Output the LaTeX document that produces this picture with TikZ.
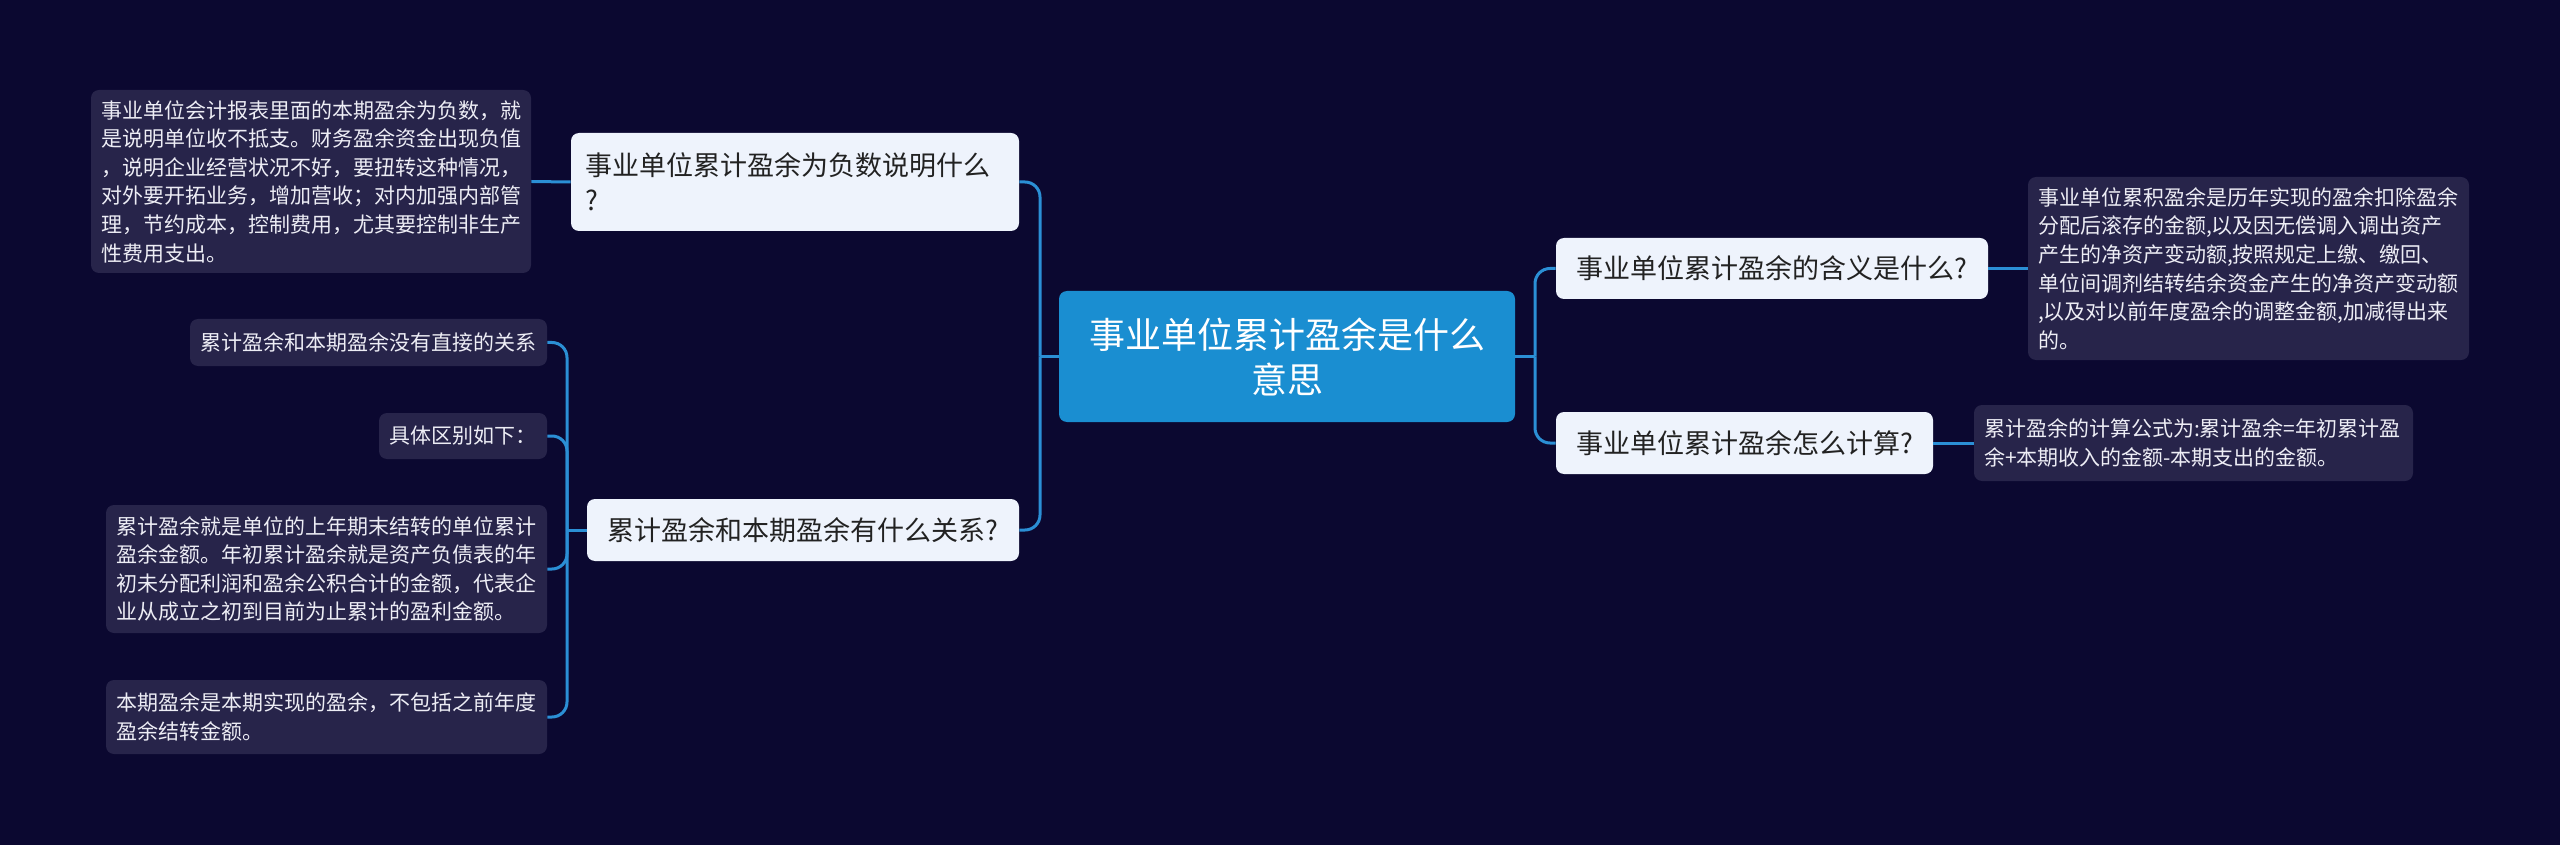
\documentclass[tikz,border=0pt]{standalone}
\usepackage{fontspec}
\newfontfamily\cjk{Noto Sans CJK SC}
\definecolor{bgc}{HTML}{0B0830}
\definecolor{leafc}{HTML}{27244A}
\definecolor{leaftext}{HTML}{EDEDF5}
\definecolor{rootc}{HTML}{1A8ED1}
\definecolor{branchc}{HTML}{EEF3FC}
\definecolor{branchtext}{HTML}{222222}
\definecolor{connc}{HTML}{2B8FD5}
\tikzset{
  leafbox/.style={fill=leafc, rounded corners=4pt, text=leaftext, font=\cjk\fontsize{10.5}{14.3}\selectfont, align=left, inner xsep=5pt, inner ysep=0pt},
  branchbox/.style={fill=branchc, rounded corners=4pt, text=branchtext, font=\cjk\fontsize{13.5}{17.5}\selectfont, align=center, inner xsep=7pt, inner ysep=0pt},
  rootbox/.style={fill=rootc, rounded corners=4pt, text=white, font=\cjk\fontsize{18}{22.5}\selectfont, align=center, inner sep=0pt, minimum width=228pt, minimum height=65.5pt},
  conn/.style={draw=connc, line width=1.5pt},
  rconn/.style={draw=connc, line width=1.5pt, rounded corners=7.5pt}
}
\begin{document}
\begin{tikzpicture}[x=0.5pt,y=-0.5pt]
\fill[bgc] (0,0) rectangle (2560,845);
\useasboundingbox (0,0) rectangle (2560,845);

% root
\node[rootbox] (root) at (1287,356.5) {事业单位累计盈余是什么\\意思};

% left branch 1
\node[branchbox, align=left, text width=210pt, minimum width=224pt, minimum height=49pt] (LB1) at (795,182) {事业单位累计盈余为负数说明什么\\?};
\node[leafbox, text width=210pt, minimum width=220pt, minimum height=91.5pt] (LL1) at (311,181.5) {事业单位会计报表里面的本期盈余为负数，就\\是说明单位收不抵支。财务盈余资金出现负值\\，说明企业经营状况不好，要扭转这种情况，\\对外要开拓业务，增加营收；对内加强内部管\\理，节约成本，控制费用，尤其要控制非生产\\性费用支出。};

% left branch 2
\node[branchbox, minimum width=216pt, minimum height=31pt] (LB2) at (803,530) {累计盈余和本期盈余有什么关系?};
\node[leafbox, text width=168.5pt, minimum width=178.5pt, minimum height=23.5pt] (L2a) at (368.5,342.5) {累计盈余和本期盈余没有直接的关系};
\node[leafbox, text width=74pt, minimum width=84pt, minimum height=23pt] (L2b) at (463,436) {具体区别如下：};
\node[leafbox, text width=210.5pt, minimum width=220.5pt, minimum height=64pt] (L2c) at (326.5,569) {累计盈余就是单位的上年期末结转的单位累计\\盈余金额。年初累计盈余就是资产负债表的年\\初未分配利润和盈余公积合计的金额，代表企\\业从成立之初到目前为止累计的盈利金额。};
\node[leafbox, text width=210.5pt, minimum width=220.5pt, minimum height=37pt] (L2d) at (326.5,717) {本期盈余是本期实现的盈余，不包括之前年度\\盈余结转金额。};

% right branches
\node[branchbox, minimum width=216pt, minimum height=30.5pt] (RB1) at (1772,268.5) {事业单位累计盈余的含义是什么?};
\node[leafbox, text width=210.5pt, minimum width=220.5pt, minimum height=91.5pt] (RL1) at (2248.5,268.5) {事业单位累积盈余是历年实现的盈余扣除盈余\\分配后滚存的金额,以及因无偿调入调出资产\\产生的净资产变动额,按照规定上缴、缴回、\\单位间调剂结转结余资金产生的净资产变动额\\,以及对以前年度盈余的调整金额,加减得出来\\的。};
\node[branchbox, minimum width=188.5pt, minimum height=31pt] (RB2) at (1744.5,443) {事业单位累计盈余怎么计算?};
\node[leafbox, text width=209.5pt, minimum width=219.5pt, minimum height=38pt] (RL2) at (2193.5,443) {累计盈余的计算公式为:累计盈余=年初累计盈\\余+本期收入的金额-本期支出的金额。};

% connectors root
\coordinate (tL) at (1040,356.5);
\coordinate (tR) at (1535,356.5);
\draw[conn] (root.west) -- (tL);
\draw[conn] (root.east) -- (tR);
\draw[rconn] (tL) |- (LB1.east);
\draw[rconn] (tL) |- (LB2.east);
\draw[rconn] (tR) |- (RB1.west);
\draw[rconn] (tR) |- (RB2.west);

% leaf connectors
\draw[conn] (LB1.west) -- (LL1.east);
\draw[conn] (RB1.east) -- (RL1.west);
\draw[conn] (RB2.east) -- (RL2.west);

\coordinate (tL2) at (567,530);
\draw[conn] (LB2.west) -- (tL2);
\draw[rconn] (tL2) |- (L2a.east);
\draw[rconn] (tL2) |- (L2b.east);
\draw[rconn] (tL2) |- (L2c.east);
\draw[rconn] (tL2) |- (L2d.east);
\end{tikzpicture}
\end{document}
